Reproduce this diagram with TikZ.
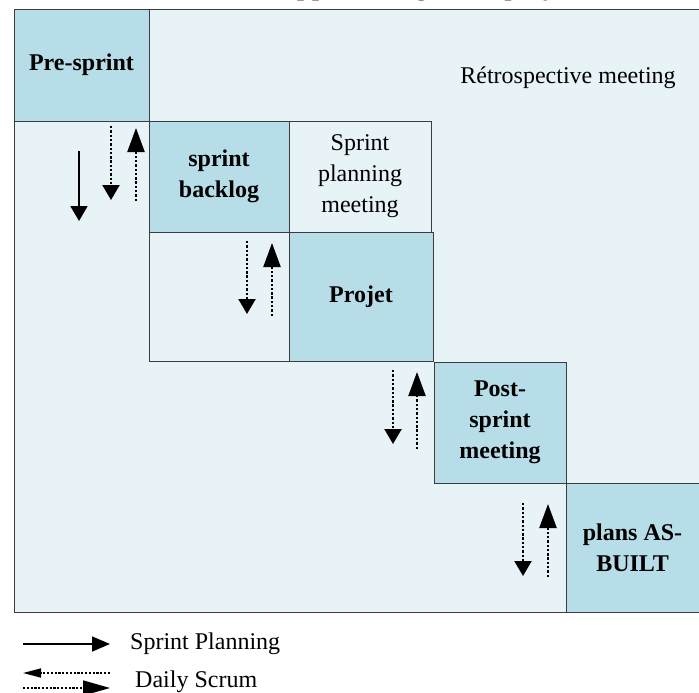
\documentclass[tikz,border=0pt]{standalone}
\usepackage{fontspec}
\setmainfont{Liberation Serif}
\usetikzlibrary{arrows.meta}
\definecolor{phase}{HTML}{B7DDE8}
\definecolor{pale}{HTML}{E8F3F8}
\definecolor{edge}{HTML}{3C3C3C}
\begin{document}
\begin{tikzpicture}[x=1pt,y=-1pt,
  txt/.style={font=\fontsize{24}{31}\selectfont, align=center, inner sep=0pt},
  palebox/.style={draw=edge, line width=0.9pt, fill=pale, inner sep=0pt, outer sep=0pt,
    font=\fontsize{24}{31}\selectfont, align=center},
  phasebox/.style={palebox, fill=phase, font=\fontsize{24}{31}\selectfont\bfseries},
  plan/.style={line width=1.8pt, -{Triangle[width=17pt,length=15pt]}},
  scrumdown/.style={line width=2.2pt, dash pattern=on 2.4pt off 1.9pt,
    -{Triangle[width=17pt,length=15pt]}},
  scrumup/.style={line width=2.2pt, dash pattern=on 2.4pt off 1.9pt,
    -{Triangle[width=17pt,length=24pt]}},
  legdot/.style={line width=1.6pt, dash pattern=on 2.2pt off 1.6pt}]
\useasboundingbox (0,0) rectangle (699,693);
\clip (0,0) rectangle (699,693);

% title line above the chart
\node[anchor=base west, inner sep=0pt, font=\fontsize{30}{36}\selectfont] (title) at (275,-5)
  {Approche agile du projet};

% outer frame (retrospective area)
\node[palebox, minimum width=685.5pt, minimum height=603pt] (frame) at (356.75,310.5) {};
\node[txt] (retro) at (568,78) {Rétrospective meeting};

% phases along the diagonal
\node[phasebox, minimum width=135pt, minimum height=112pt] (pre) at (81.5,65) {Pre-sprint};
\node[phasebox, minimum width=140pt, minimum height=111pt] (backlog) at (219,176.5) {sprint\\backlog};
\node[palebox, minimum width=142pt, minimum height=111pt] (spm) at (360,176.5) {Sprint\\planning\\meeting};
\node[palebox, minimum width=140pt, minimum height=129pt] (work) at (219,296.5) {};
\node[phasebox, minimum width=144pt, minimum height=129pt] (projet) at (361,296.5) {Projet};
\node[phasebox, minimum width=132pt, minimum height=121pt] (post) at (500,422.5) {Post-\\sprint\\meeting};
\node[phasebox, minimum width=133pt, minimum height=129pt] (asbuilt) at (632.5,547.5) {plans AS-\\BUILT};

% arrow end points
\coordinate (p1a) at (79,151);  \coordinate (p1b) at (79,221);
\coordinate (d1a) at (111,126); \coordinate (d1b) at (111,200);
\coordinate (u1a) at (136,201); \coordinate (u1b) at (136,128);
\coordinate (d2a) at (247,241); \coordinate (d2b) at (247,314);
\coordinate (u2a) at (272,316); \coordinate (u2b) at (272,243);
\coordinate (d3a) at (393,370); \coordinate (d3b) at (393,444);
\coordinate (u3a) at (417,449); \coordinate (u3b) at (417,372);
\coordinate (d4a) at (523,503); \coordinate (d4b) at (523,576);
\coordinate (u4a) at (548,577); \coordinate (u4b) at (548,504);

\draw[plan] (p1a) -- (p1b);
\draw[scrumdown] (d1a) -- (d1b);
\draw[scrumup] (u1a) -- (u1b);
\draw[scrumdown] (d2a) -- (d2b);
\draw[scrumup] (u2a) -- (u2b);
\draw[scrumdown] (d3a) -- (d3b);
\draw[scrumup] (u3a) -- (u3b);
\draw[scrumdown] (d4a) -- (d4b);
\draw[scrumup] (u4a) -- (u4b);

% legend
\coordinate (l1a) at (23,644);  \coordinate (l1b) at (110,644);
\coordinate (l2a) at (110,673); \coordinate (l2b) at (23,673);
\coordinate (l3a) at (23,688);  \coordinate (l3b) at (110,688);
\draw[line width=1.6pt, -{Triangle[width=15pt,length=18pt]}] (l1a) -- (l1b);
\node[txt, anchor=west] (legplan) at (130,644) {Sprint Planning};
\draw[legdot, -{Triangle[width=9pt,length=18pt]}] (l2a) -- (l2b);
\draw[legdot, -{Triangle[width=15pt,length=27pt]}] (l3a) -- (l3b);
\node[txt, anchor=west] (legscrum) at (135,682) {Daily Scrum};
\end{tikzpicture}
\end{document}
